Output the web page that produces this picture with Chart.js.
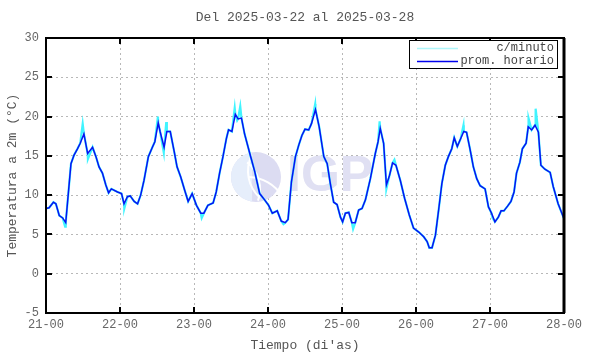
<!DOCTYPE html>
<html>
<head>
<meta charset="utf-8">
<script src="https://cdn.jsdelivr.net/npm/chart.js@4"></script>
<style>
  html, body { margin: 0; padding: 0; background: #fff; }
  #wrap { width: 590px; height: 354px; }
</style>
</head>
<body>
<div id="wrap"><canvas id="tempChart" width="590" height="354"></canvas></div>
<script>
// hours since 2025-03-21 00:00 and hourly mean temperature (°C)
const hourlyHours = [0, 1, 2.4, 3.2, 4.3, 5.4, 6.4, 8.1, 9.1, 10.2, 11.1, 12.3, 13.5, 15.1, 16.2, 17.2, 18.3, 19.4, 20.3, 21.2, 23.2,
  24.5, 25.3, 26.4, 27.3, 28.6, 29.7, 30.7, 31.8, 33.2, 34.5, 35.3, 36.4, 37.0, 38.3, 39.2, 40.3, 41.6, 42.5, 43.7, 45.0, 46.1, 47.4,
  48.8, 50.2, 51.2, 52.5, 54.2, 55.2, 56.3, 57.4, 58.5, 59.2, 60.3, 61.4, 62.3, 63.4, 64.4, 66.1, 67.7, 69.3, 70.9,
  72.2, 73.4, 75.0, 76.3, 77.6, 78.5, 79.6, 80.9, 82.0, 83.0, 84.0, 85.2, 86.1, 87.4, 88.6, 90.1, 91.2, 92.2, 93.3, 94.4, 95.5,
  96.2, 97.1, 98.2, 99.2, 100.3, 101.4, 102.5, 103.6, 105.2, 106.8, 107.7, 108.4, 109.5, 110.4, 111.4, 112.4, 113.5, 114.9, 116.3, 117.8, 119.2,
  120.9, 122.5, 123.6, 124.3, 125.2, 126.3, 127.4, 128.4, 129.5, 130.5, 131.6, 132.4, 133.4, 134.5, 135.5, 136.4, 137.5, 138.6, 139.7, 140.8, 142.4, 143.5,
  144.5, 145.6, 146.7, 147.6, 148.5, 149.7, 150.8, 151.8, 152.6, 153.7, 154.5, 155.7, 156.4, 157.5, 158.6, 159.7, 160.5, 161.8, 163.5, 164.5, 166.1, 168.0];
const hourlyTemps = [8.3, 8.4, 9.1, 8.9, 7.4, 7.1, 6.5, 14.0, 15.1, 15.9, 16.6, 17.8, 15.3, 16.1, 14.9, 13.6, 12.8, 11.3, 10.3, 10.8, 10.4,
  10.2, 8.9, 9.8, 9.9, 9.2, 8.9, 10.0, 11.9, 14.9, 16.1, 16.8, 19.2, 18.1, 16.1, 18.1, 18.1, 15.5, 13.6, 12.3, 10.6, 9.2, 10.2,
  8.7, 7.7, 7.7, 8.7, 9.0, 10.4, 12.8, 14.9, 17.2, 18.3, 18.1, 20.3, 19.7, 19.8, 17.8, 15.3, 13.0, 10.2, 9.4,
  8.7, 7.7, 8.0, 6.7, 6.5, 6.9, 11.7, 14.9, 16.4, 17.6, 18.4, 18.3, 19.1, 20.9, 18.7, 14.9, 14.0, 11.5, 9.1, 8.8, 7.2,
  6.6, 7.7, 7.8, 6.5, 6.5, 8.1, 8.3, 9.4, 12.1, 15.3, 16.8, 18.5, 16.6, 11.3, 12.5, 14.1, 13.8, 11.9, 9.6, 7.5, 5.8,
  5.3, 4.7, 4.1, 3.3, 3.3, 4.9, 8.3, 11.5, 13.8, 14.9, 15.9, 17.3, 16.2, 17.2, 18.1, 18.0, 15.9, 13.6, 12.1, 11.2, 10.8, 8.5,
  7.7, 6.6, 7.2, 8.0, 8.0, 8.6, 9.2, 10.4, 12.8, 14.2, 15.9, 16.6, 18.7, 18.3, 18.9, 18.0, 13.8, 13.3, 12.9, 11.1, 8.9, 7.0];

// extra per-minute excursions visible around the hourly curve
const minuteSpikeHours = [6.2, 11.9, 13.6, 25.4, 36.3, 38.2, 39.0, 50.5, 61.2, 62.0, 63.0, 77.0, 87.3, 99.6, 108.2, 110.4, 113.0, 135.4, 144.8, 156.5, 158.8];
const minuteSpikeTemps = [6.0, 19.1, 14.6, 8.3, 20.0, 15.4, 19.3, 7.1, 21.1, 19.5, 21.3, 6.3, 21.6, 5.7, 19.4, 10.8, 14.5, 18.9, 7.1, 19.8, 21.0];

const xTickLabels = ['21-00', '22-00', '23-00', '24-00', '25-00', '26-00', '27-00', '28-00'];
const yTicks = [-5, 0, 5, 10, 15, 20, 25, 30];

const titleText = 'Del 2025-03-22 al 2025-03-28';
const monoFont = '"Liberation Mono", "DejaVu Sans Mono", monospace';

const hourlyPoints = hourlyHours.map((h, i) => ({ x: h, y: hourlyTemps[i] }));
const minutePoints = hourlyPoints
  .concat(minuteSpikeHours.map((h, i) => ({ x: h, y: minuteSpikeTemps[i] })))
  .sort((a, b) => a.x - b.x);

const framePlugin = {
  id: 'frame',
  beforeDatasetsDraw(chart) {
    // watermark logo behind the lines
    const ctx = chart.ctx;
    ctx.save();
    const cx = 256, cy = 177, r = 25;
    ctx.beginPath();
    ctx.arc(cx, cy, r, 0, Math.PI * 2);
    ctx.fillStyle = '#dcdcf2';
    ctx.fill();
    ctx.beginPath();
    ctx.arc(cx, cy, r, Math.PI * 0.55, Math.PI * 1.45);
    ctx.fillStyle = '#e6eefb';
    ctx.fill();
    ctx.strokeStyle = '#ffffff';
    ctx.lineWidth = 2;
    ctx.beginPath();
    ctx.arc(cx - 30, cy + 12, 34, -0.9, 0.35);
    ctx.stroke();
    ctx.beginPath();
    ctx.arc(cx - 8, cy + 40, 40, -1.55, -0.55);
    ctx.stroke();
    ctx.beginPath();
    ctx.arc(cx + 28, cy - 6, 36, 2.3, 3.6);
    ctx.stroke();
    ctx.font = 'bold 50px "Liberation Sans", Arial, sans-serif';
    ctx.fillStyle = '#e0e0f3';
    ctx.textBaseline = 'alphabetic';
    ctx.textAlign = 'left';
    ctx.fillText('IGP', 287, 191);
    ctx.restore();
  },
  afterDraw(chart) {
    const { ctx, chartArea: a, scales } = chart;
    ctx.save();
    // inner tick marks on all four sides
    ctx.strokeStyle = '#000';
    ctx.lineWidth = 2;
    ctx.beginPath();
    scales.x.ticks.forEach((t) => {
      const px = Math.round(scales.x.getPixelForValue(t.value));
      ctx.moveTo(px, a.bottom); ctx.lineTo(px, a.bottom - 6);
      ctx.moveTo(px, a.top); ctx.lineTo(px, a.top + 6);
    });
    scales.y.ticks.forEach((t) => {
      const py = Math.round(scales.y.getPixelForValue(t.value));
      ctx.moveTo(a.left, py); ctx.lineTo(a.left + 6, py);
      ctx.moveTo(a.right, py); ctx.lineTo(a.right - 6, py);
    });
    ctx.stroke();
    // frame
    ctx.lineWidth = 2;
    ctx.strokeRect(a.left, a.top, a.right - a.left, a.bottom - a.top);
    ctx.lineWidth = 3;
    ctx.beginPath();
    ctx.moveTo(a.right, a.top); ctx.lineTo(a.right, a.bottom);
    ctx.stroke();

    // legend box
    const lx = 409, ly = 40, lw = 148, lh = 28;
    ctx.fillStyle = '#fff';
    ctx.fillRect(lx, ly, lw, lh);
    ctx.lineWidth = 1;
    ctx.strokeStyle = '#000';
    ctx.strokeRect(lx + 0.5, ly + 0.5, lw, lh);
    ctx.font = '12px ' + monoFont;
    ctx.fillStyle = '#444';
    ctx.textAlign = 'right';
    ctx.textBaseline = 'middle';
    const entries = [
      { label: 'c/minuto', color: '#aef7fb', y: ly + 8 },
      { label: 'prom. horario', color: '#0000ee', y: ly + 21 },
    ];
    entries.forEach((e) => {
      ctx.strokeStyle = e.color;
      ctx.lineWidth = 1.5;
      ctx.beginPath();
      ctx.moveTo(lx + 8, e.y + 0.5); ctx.lineTo(lx + 49, e.y + 0.5);
      ctx.stroke();
      ctx.fillText(e.label, lx + lw - 3, e.y);
    });

    // titles
    ctx.fillStyle = '#555';
    ctx.textAlign = 'center';
    ctx.font = '13px ' + monoFont;
    ctx.fillText(titleText, (a.left + a.right) / 2, 18);
    ctx.fillText('Tiempo (di\'as)', (a.left + a.right) / 2, 346);
    ctx.translate(13, (a.top + a.bottom) / 2);
    ctx.rotate(-Math.PI / 2);
    ctx.fillText('Temperatura a 2m (°C)', 0, 0);
    ctx.restore();
  },
};

new Chart(document.getElementById('tempChart'), {
  type: 'line',
  data: {
    datasets: [
      {
        label: 'prom. horario',
        data: hourlyPoints,
        borderColor: '#0a10f2',
        borderWidth: 1.5,
        pointRadius: 0,
        tension: 0,
      },
      {
        label: 'c/minuto',
        data: minutePoints,
        borderColor: '#40f4ff',
        borderWidth: 2.2,
        pointRadius: 0,
        tension: 0,
      },
    ],
  },
  options: {
    responsive: false,
    animation: false,
    events: [],
    layout: { padding: { top: 38, right: 26, left: 0, bottom: 0 } },
    plugins: {
      legend: { display: false },
      tooltip: { enabled: false },
    },
    scales: {
      x: {
        type: 'linear',
        min: 0,
        max: 168,
        afterBuildTicks: (scale) => {
          scale.ticks = xTickLabels.map((_, i) => ({ value: i * 24 }));
        },
        afterFit: (scale) => { scale.height = 41; },
        ticks: {
          autoSkip: false,
          maxRotation: 0,
          padding: 5,
          color: '#666',
          font: { family: monoFont, size: 12 },
          callback: (value) => xTickLabels[Math.round(value / 24)],
        },
        grid: { color: '#b8b8b8', lineWidth: 1, drawTicks: false },
        border: { display: false, dash: [2, 3] },
      },
      y: {
        min: -5,
        max: 30,
        afterBuildTicks: (scale) => {
          scale.ticks = yTicks.map((v) => ({ value: v }));
        },
        afterFit: (scale) => { scale.width = 46; },
        ticks: {
          padding: 7,
          color: '#666',
          font: { family: monoFont, size: 12 },
        },
        grid: { color: '#b8b8b8', lineWidth: 1, drawTicks: false },
        border: { display: false, dash: [2, 3] },
      },
    },
  },
  plugins: [framePlugin],
});
</script>
</body>
</html>
